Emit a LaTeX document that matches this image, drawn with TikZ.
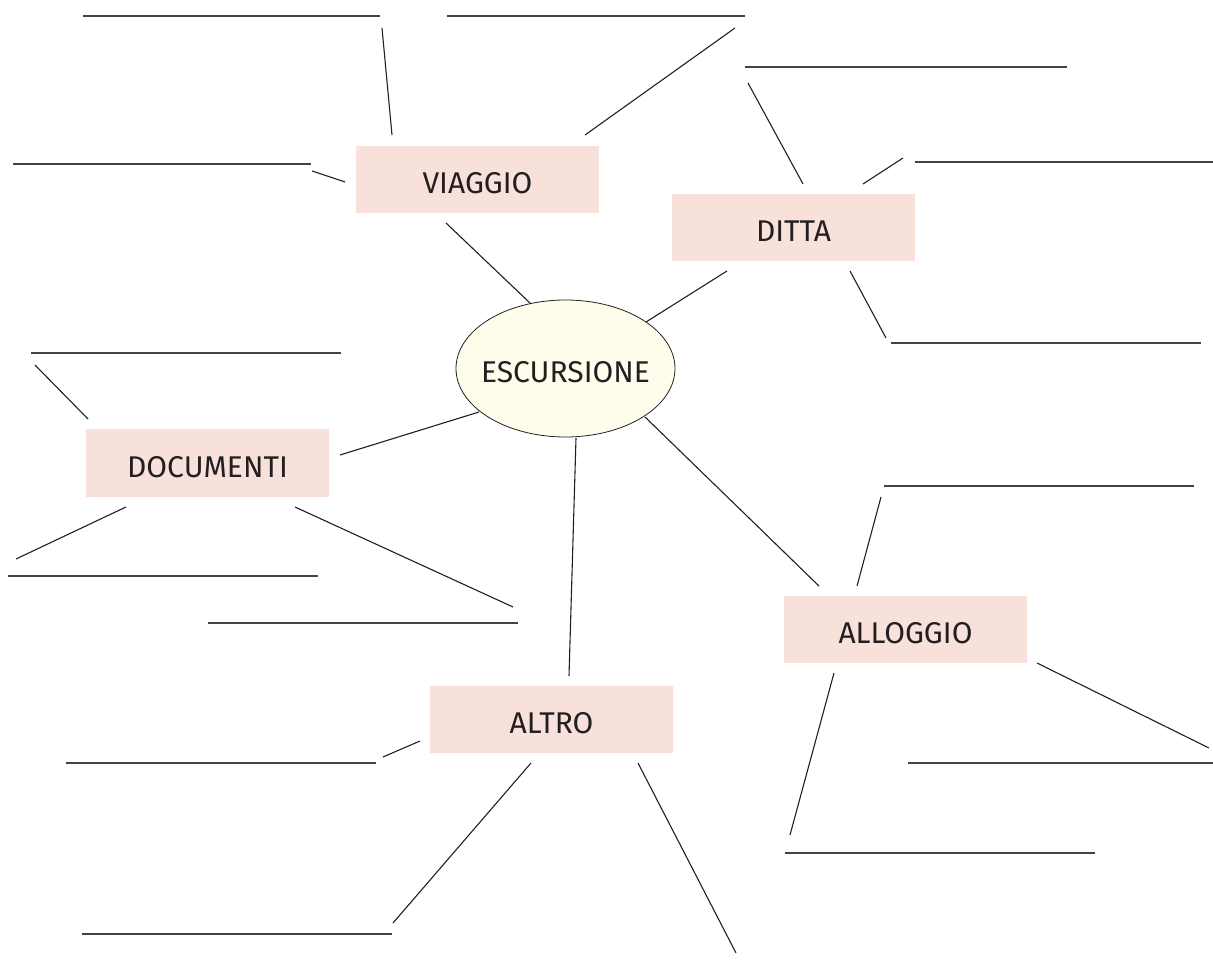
\documentclass[tikz,border=0pt]{standalone}
\usepackage{fontspec}
\setmainfont{Fira Sans}
\usetikzlibrary{shapes.geometric}
\definecolor{boxpink}{RGB}{248,225,218}
\definecolor{ellfill}{RGB}{254,253,236}
\definecolor{ink}{RGB}{35,31,32}
\tikzset{
  topic/.style={rectangle, fill=boxpink, minimum width=243pt, minimum height=67pt, inner sep=0pt,
    text=ink, font=\fontsize{30}{33}\selectfont, text height=28pt, text depth=0pt},
  centre/.style={ellipse, draw=ink, line width=0.8pt, fill=ellfill, minimum width=219pt, minimum height=137pt,
    inner xsep=-12pt, inner ysep=0pt, text=ink, font=\fontsize{30}{33}\selectfont, text height=28pt, text depth=0pt},
  spoke/.style={draw=ink, line width=1.1pt},
  blank/.style={draw=ink!85, line width=1.1pt}
}
\begin{document}
\begin{tikzpicture}[x=1pt,y=-1pt]
\useasboundingbox (0,0) rectangle (1213,965);
% nodes
\node[centre] (esc) at (565.5,368.5) {ESCURSIONE};
\node[topic] (viaggio) at (477.5,179.5) {VIAGGIO};
\node[topic] (ditta) at (793.5,227.5) {DITTA};
\node[topic] (documenti) at (207.5,463) {DOCUMENTI};
\node[topic] (alloggio) at (905.5,629.5) {ALLOGGIO};
\node[topic] (altro) at (551.5,719.5) {ALTRO};
% blank answer lines
\foreach \n/\xa/\xb/\yy in {h1/83/380/16, h2/447/745/16, h3/745/1067/67, h4/13/311/164,
  h5/915/1213/162, h6/891/1201/343, h7/31/341/353, h8/884/1194/486, h9/8/318/576,
  h10/208/518/623, h11/66/376/763, h12/908/1213/763, h13/785/1095/853, h14/82/392/934}{
  \coordinate (\n a) at (\xa,\yy);
  \coordinate (\n b) at (\xb,\yy);
  \draw[blank] (\n a) -- (\n b);
}
% spokes
\foreach \n/\xa/\ya/\xb/\yb in {
  s1/382/28/392/135, s2/312/171/345/182, s3/735/28/585/135, s4/446/223/530/303,
  s5/748/83/803/184, s6/863/184/903/158, s7/727/271/646/322, s8/850/271/886/338,
  s9/35/365/88/419, s10/479/412/340/455, s11/126/507/16/559, s12/295/507/513/607,
  s13/645/417/819/586, s14/857/586/881/497, s15/1037/663/1209/748, s16/834/673/790/835,
  s17/576/438/569/676, s18/420/741/383/757, s19/531/763/393/923, s20/638/763/736/953}{
  \coordinate (\n a) at (\xa,\ya);
  \coordinate (\n b) at (\xb,\yb);
  \draw[spoke] (\n a) -- (\n b);
}
\end{tikzpicture}
\end{document}
